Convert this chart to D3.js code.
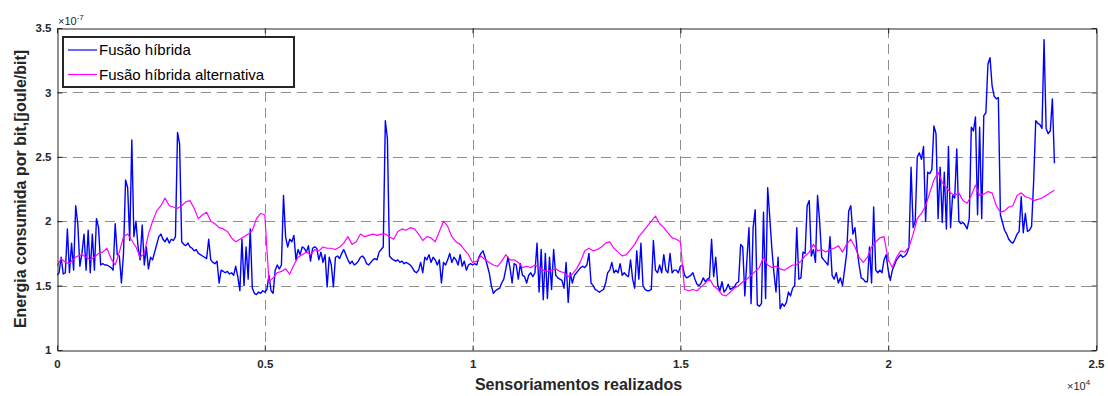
<!DOCTYPE html>
<html><head><meta charset="utf-8">
<script src="https://cdn.jsdelivr.net/npm/d3@7"></script>
<style>
html,body{margin:0;padding:0;background:#fff;}
svg{display:block;font-family:"Liberation Sans",Arial,sans-serif;}
</style></head>
<body><svg id="chart" width="1108" height="396"></svg>
<script>
// x step between samples (sensoriamentos)
const stepBlue = 50;
const stepMagenta = 100;
// Fusão híbrida (x1e-7 joule/bit)
const fusaoHibrida = [
1.58,1.60,1.72,1.59,1.60,1.94,1.60,1.83,1.62,2.12,
1.98,1.65,1.75,1.90,1.62,1.93,1.60,1.90,1.62,2.02,
1.95,1.66,1.67,1.66,1.66,1.65,1.64,1.62,1.98,1.74,
1.73,1.52,1.75,2.32,2.26,1.85,2.63,1.88,2.00,1.80,
1.70,1.97,1.66,1.80,1.63,1.72,1.70,1.76,1.82,1.88,
1.90,1.86,1.84,1.87,1.83,1.86,1.85,1.88,2.69,2.60,
1.84,1.82,1.81,1.83,1.80,1.79,1.77,1.78,1.75,1.74,
1.73,1.72,1.71,1.86,1.70,1.68,1.67,1.69,1.52,1.62,
1.61,1.60,1.61,1.59,1.60,1.58,1.65,1.57,1.46,1.86,
1.50,1.80,1.55,1.94,1.48,1.44,1.43,1.45,1.44,1.46,
1.45,1.47,1.58,1.46,1.44,1.62,1.66,1.63,1.66,2.20,
1.88,1.80,1.86,1.84,1.89,1.70,1.78,1.74,1.80,1.79,
1.76,1.81,1.69,1.79,1.80,1.79,1.70,1.76,1.68,1.74,
1.49,1.72,1.66,1.49,1.72,1.73,1.71,1.75,1.78,1.74,
1.70,1.67,1.69,1.66,1.67,1.69,1.72,1.73,1.71,1.67,
1.66,1.68,1.70,1.71,1.70,1.76,1.78,1.80,2.78,2.64,
1.73,1.71,1.70,1.69,1.70,1.68,1.69,1.67,1.68,1.67,
1.66,1.64,1.61,1.60,1.62,1.68,1.60,1.72,1.70,1.74,
1.68,1.72,1.70,1.66,1.70,1.52,1.68,1.66,1.70,1.75,
1.68,1.72,1.70,1.66,1.74,1.65,1.69,1.62,1.66,1.67,
1.66,1.67,1.66,1.72,1.75,1.77,1.72,1.66,1.60,1.50,
1.44,1.46,1.47,1.48,1.52,1.55,1.63,1.72,1.64,1.52,
1.67,1.66,1.55,1.67,1.58,1.57,1.52,1.58,1.60,1.57,
1.60,1.83,1.45,1.78,1.39,1.75,1.40,1.72,1.47,1.78,
1.58,1.56,1.55,1.54,1.48,1.68,1.37,1.60,1.52,1.58,
1.60,1.62,1.64,1.65,1.64,1.66,1.75,1.52,1.50,1.47,
1.46,1.45,1.46,1.47,1.52,1.60,1.62,1.68,1.60,1.62,
1.60,1.67,1.58,1.60,1.58,1.57,1.70,1.55,1.48,1.77,
1.55,1.83,1.50,1.47,1.46,1.46,1.47,1.85,1.62,1.60,
1.66,1.60,1.74,1.62,1.60,1.75,1.60,1.62,1.62,1.60,
1.65,1.66,1.58,1.56,1.57,1.58,1.60,1.55,1.51,1.50,
1.52,1.56,1.53,1.55,1.56,1.86,1.57,1.72,1.50,1.46,
1.53,1.45,1.47,1.51,1.47,1.48,1.49,1.52,1.53,1.82,
1.80,1.42,1.70,1.95,1.36,1.95,2.09,1.35,1.34,1.36,
2.07,1.40,2.26,2.03,1.79,1.60,1.45,1.72,1.32,1.36,
1.34,1.37,1.45,1.42,1.48,1.50,1.95,1.55,1.56,1.76,
1.75,2.12,2.16,1.73,1.78,1.68,2.20,2.00,1.72,1.70,
1.68,1.66,1.88,1.58,1.55,1.60,1.52,1.56,1.50,1.62,
1.75,2.08,2.12,1.90,1.95,1.78,1.66,1.56,1.55,1.53,
1.53,1.80,1.52,2.11,1.62,1.60,1.62,1.60,1.70,1.74,
1.62,1.54,1.62,1.66,1.70,1.72,1.74,1.72,1.73,1.75,
1.80,2.42,1.95,2.00,2.50,2.53,2.48,2.58,2.00,2.38,
2.37,2.40,2.74,2.68,2.02,2.42,1.99,2.38,1.94,2.58,
1.95,2.20,2.18,2.56,2.00,1.98,1.99,1.97,1.94,2.02,
2.73,2.70,2.81,2.05,2.73,2.02,2.82,2.84,3.22,3.27,
3.05,2.97,2.95,2.96,2.05,1.99,1.93,1.90,1.86,1.84,
1.83,1.86,1.90,1.92,2.19,1.91,2.06,1.92,1.93,1.96,
2.31,2.78,2.76,2.75,2.72,3.41,2.72,2.68,2.70,2.95,2.45
];
// Fusão híbrida alternativa (x1e-7 joule/bit)
const fusaoAlternativa = [
1.65,1.71,1.68,1.67,1.71,1.73,1.74,1.72,1.70,1.72,
1.75,1.76,1.79,1.71,1.66,1.76,1.88,1.90,1.85,1.80,
1.72,1.75,1.90,2.00,2.08,2.12,2.18,2.12,2.11,2.10,
2.12,2.15,2.16,2.10,2.02,2.05,2.07,2.00,1.98,1.95,
1.94,1.92,1.87,1.84,1.86,1.88,1.90,1.93,2.02,2.06,
2.05,1.53,1.56,1.60,1.61,1.63,1.59,1.66,1.72,1.74,
1.76,1.74,1.78,1.77,1.80,1.79,1.79,1.78,1.80,1.83,
1.88,1.82,1.84,1.90,1.88,1.89,1.90,1.89,1.90,1.90,
1.88,1.86,1.92,1.94,1.93,1.95,1.94,1.90,1.85,1.88,
1.87,1.84,1.92,2.00,1.96,1.88,1.84,1.82,1.78,1.74,
1.68,1.69,1.73,1.70,1.68,1.66,1.65,1.69,1.74,1.70,
1.70,1.68,1.64,1.65,1.64,1.66,1.64,1.62,1.61,1.62,
1.63,1.61,1.60,1.57,1.59,1.63,1.69,1.77,1.79,1.77,
1.78,1.80,1.83,1.84,1.79,1.76,1.73,1.74,1.78,1.82,
1.88,1.92,1.96,2.00,2.04,1.98,1.95,1.91,1.87,1.86,
1.84,1.47,1.46,1.47,1.46,1.49,1.52,1.55,1.50,1.47,
1.43,1.42,1.45,1.48,1.50,1.53,1.55,1.58,1.61,1.64,
1.72,1.66,1.64,1.65,1.63,1.62,1.64,1.66,1.66,1.69,
1.73,1.76,1.82,1.77,1.78,1.76,1.78,1.79,1.81,1.76,
1.82,1.86,1.80,1.72,1.68,1.72,1.80,1.84,1.87,1.88,
1.70,1.64,1.72,1.77,1.76,1.80,1.90,2.02,2.06,2.12,
2.22,2.32,2.38,2.30,2.26,2.22,2.20,2.22,2.16,2.14,
2.20,2.28,2.20,2.21,2.23,2.22,2.12,2.07,2.08,2.11,
2.12,2.20,2.22,2.19,2.18,2.16,2.17,2.18,2.20,2.22,2.24
];
const xTicks = [0, 5000, 10000, 15000, 20000, 25000];
const xTickLabels = ["0", "0.5", "1", "1.5", "2", "2.5"];
const yTicks = [1, 1.5, 2, 2.5, 3, 3.5];
const yTickLabels = ["1", "1.5", "2", "2.5", "3", "3.5"];
const seriesNames = ["Fusão híbrida", "Fusão híbrida alternativa"];
const seriesColors = ["#0000ff", "#ff00ff"];

const L = 57, R = 1096, T = 28, B = 350;
const svg = d3.select("#chart");
const x = d3.scaleLinear().domain([0, 25000]).range([L, R]);
const y = d3.scaleLinear().domain([1, 3.5]).range([B, T]);
const axisColor = "#262626";

svg.append("rect").attr("x",0).attr("y",0).attr("width",1108).attr("height",396).attr("fill","#fff");

// grid
const grid = svg.append("g").attr("stroke","#8f8f8f").attr("stroke-width",1).attr("stroke-dasharray","10,6");
xTicks.slice(1,-1).forEach(t => grid.append("line").attr("x1",Math.round(x(t))+0.5).attr("x2",Math.round(x(t))+0.5).attr("y1",T).attr("y2",B));
yTicks.slice(1,-1).forEach(t => grid.append("line").attr("y1",Math.round(y(t))+0.5).attr("y2",Math.round(y(t))+0.5).attr("x1",L).attr("x2",R));

svg.append("defs").append("clipPath").attr("id","clip").append("rect").attr("x",L).attr("y",T).attr("width",R-L).attr("height",B-T);

const line = d3.line().x(d => x(d[0])).y(d => y(d[1]));
const blueData = fusaoHibrida.map((v,i) => [i*stepBlue, v]);
const magData = fusaoAlternativa.map((v,i) => [i*stepMagenta, v]);
const plot = svg.append("g").attr("clip-path","url(#clip)");
plot.append("path").datum(blueData).attr("d",line).attr("fill","none").attr("stroke",seriesColors[0]).attr("stroke-width",1.4).attr("stroke-linejoin","round");
plot.append("path").datum(magData).attr("d",line).attr("fill","none").attr("stroke",seriesColors[1]).attr("stroke-width",1.2).attr("stroke-linejoin","round");

// axes with inward ticks
const xAxisB = d3.axisBottom(x).tickValues(xTicks).tickFormat((d,i)=>xTickLabels[i]).tickSizeInner(-5).tickSizeOuter(0).tickPadding(9);
const xAxisT = d3.axisTop(x).tickValues(xTicks).tickFormat("").tickSizeInner(-5).tickSizeOuter(0);
const yAxisL = d3.axisLeft(y).tickValues(yTicks).tickFormat((d,i)=>yTickLabels[i]).tickSizeInner(-5).tickSizeOuter(0).tickPadding(6);
const yAxisR = d3.axisRight(y).tickValues(yTicks).tickFormat("").tickSizeInner(-5).tickSizeOuter(0);
function style(g){
  g.select(".domain").attr("stroke",axisColor);
  g.selectAll(".tick line").attr("stroke",axisColor);
  g.selectAll(".tick text").attr("fill",axisColor).style("font-size","11.5px").style("font-weight","bold").style("font-family","'Liberation Sans',Arial,sans-serif");
}
svg.append("g").attr("transform",`translate(0,${B+0.5})`).call(xAxisB).call(style);
svg.append("g").attr("transform",`translate(0,${T+0.5})`).call(xAxisT).call(style);
svg.append("g").attr("transform",`translate(${L+0.5},0)`).call(yAxisL).call(style);
svg.append("g").attr("transform",`translate(${R+0.5},0)`).call(yAxisR).call(style);

// exponent labels
const e1 = svg.append("text").attr("x",58).attr("y",25).attr("fill",axisColor).style("font-size","11px");
e1.append("tspan").text("×10");
e1.append("tspan").attr("dy",-5).style("font-size","8px").text("-7");
const e2 = svg.append("text").attr("x",1067).attr("y",390).attr("fill",axisColor).style("font-size","11px");
e2.append("tspan").text("×10");
e2.append("tspan").attr("dy",-5).style("font-size","8px").text("4");

// axis titles
svg.append("text").attr("x",(L+R)/2+2).attr("y",390).attr("text-anchor","middle").attr("fill",axisColor)
  .style("font-size","16px").style("font-weight","bold").text("Sensoriamentos realizados");
svg.append("text").attr("transform",`translate(26,${(T+B)/2}) rotate(-90)`).attr("text-anchor","middle").attr("fill",axisColor)
  .style("font-size","16px").style("font-weight","bold").text("Energia consumida por bit,[joule/bit]");

// legend
const lg = svg.append("g");
lg.append("rect").attr("x",63).attr("y",37).attr("width",231).attr("height",50).attr("fill","#fff").attr("stroke",axisColor).attr("stroke-width",2);
seriesNames.forEach((n,i) => {
  const yy = 50 + i*24.5;
  lg.append("line").attr("x1",68).attr("x2",97).attr("y1",yy).attr("y2",yy).attr("stroke",seriesColors[i]).attr("stroke-width",1.2);
  lg.append("text").attr("x",99).attr("y",yy+5).attr("fill","#000").style("font-size","15px").text(n);
});
</script></body></html>
